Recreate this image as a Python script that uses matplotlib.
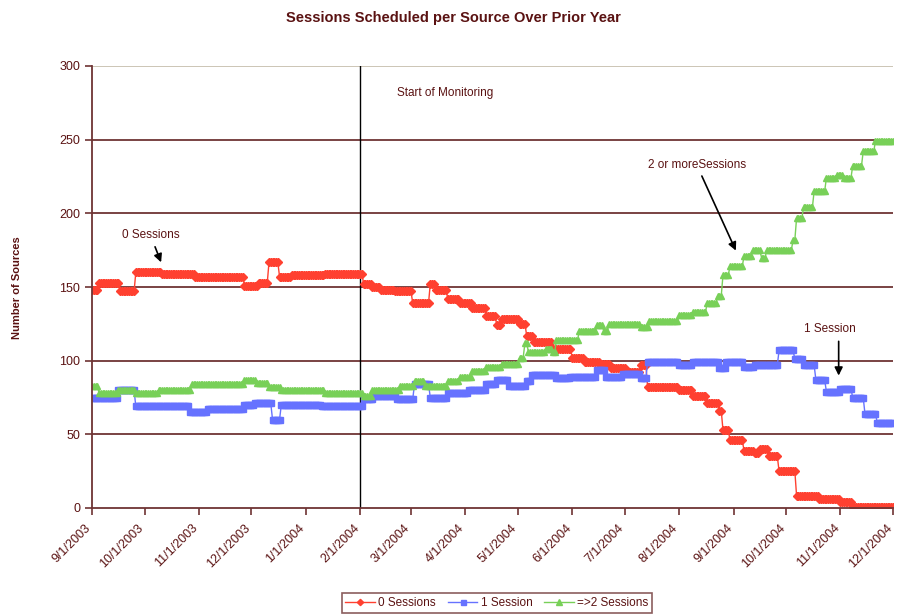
import pandas as pd
import numpy as np
import matplotlib
matplotlib.use("Agg")
import matplotlib.pyplot as plt
import matplotlib.transforms as mtrans

plt.rcParams['font.family'] = ['Liberation Sans', 'DejaVu Sans']

# change points (date the level starts, level)
zero_dates = ['2003-09-01', '2003-09-05', '2003-09-17', '2003-09-26', '2003-10-11', '2003-10-30',
              '2003-11-27', '2003-12-05', '2003-12-11', '2003-12-17', '2003-12-24', '2004-01-12',
              '2004-02-03', '2004-02-08', '2004-02-13', '2004-02-21', '2004-03-02', '2004-03-12',
              '2004-03-15', '2004-03-22', '2004-03-29', '2004-04-05', '2004-04-13', '2004-04-19',
              '2004-04-22', '2004-05-02', '2004-05-06', '2004-05-10', '2004-05-21', '2004-06-01',
              '2004-06-08', '2004-06-17', '2004-06-23', '2004-07-02', '2004-07-10', '2004-07-14',
              '2004-08-01', '2004-08-09', '2004-08-17', '2004-08-24', '2004-08-26', '2004-08-30',
              '2004-09-07', '2004-09-13', '2004-09-16', '2004-09-21', '2004-09-27', '2004-10-07',
              '2004-10-20', '2004-11-01', '2004-11-08']
zero_vals = [148, 153, 147, 160, 159, 157,
             151, 153, 167, 157, 158, 159,
             152, 150, 148, 147, 139, 152,
             148, 142, 139, 136, 130, 124,
             128, 125, 117, 113, 108, 102,
             99, 98, 95, 92, 97, 82,
             80, 76, 71, 66, 53, 46,
             39, 37, 40, 35, 25, 8,
             6, 4, 1]

one_dates = ['2003-09-01', '2003-09-16', '2003-09-26', '2003-10-27', '2003-11-06', '2003-11-27',
             '2003-12-03', '2003-12-13', '2003-12-18', '2004-01-10', '2004-02-03', '2004-02-09',
             '2004-02-22', '2004-03-03', '2004-03-12', '2004-03-22', '2004-04-03', '2004-04-13',
             '2004-04-19', '2004-04-26', '2004-05-06', '2004-05-09', '2004-05-23', '2004-05-31',
             '2004-06-15', '2004-06-20', '2004-06-30', '2004-07-10', '2004-07-14', '2004-08-01',
             '2004-08-09', '2004-08-24', '2004-08-28', '2004-09-07', '2004-09-13', '2004-09-27',
             '2004-10-06', '2004-10-11', '2004-10-18', '2004-10-24', '2004-11-01', '2004-11-08',
             '2004-11-15', '2004-11-22']
one_vals = [75, 80, 69, 65, 67, 70,
            71, 60, 70, 69, 74, 76,
            74, 84, 75, 78, 80, 84,
            87, 83, 86, 90, 88, 89,
            94, 89, 91, 88, 99, 97,
            99, 95, 99, 96, 97, 107,
            101, 97, 87, 79, 81, 75,
            64, 58]

two_dates = ['2003-09-01', '2003-09-05', '2003-09-16', '2003-09-26', '2003-10-09', '2003-10-28',
             '2003-11-27', '2003-12-04', '2003-12-11', '2003-12-18', '2004-01-12', '2004-02-03',
             '2004-02-08', '2004-02-24', '2004-03-03', '2004-03-09', '2004-03-22', '2004-03-29',
             '2004-04-05', '2004-04-13', '2004-04-22', '2004-05-02', '2004-05-05', '2004-05-07',
             '2004-05-17', '2004-05-21', '2004-05-23', '2004-06-05', '2004-06-15', '2004-06-19',
             '2004-06-22', '2004-07-10', '2004-07-15', '2004-08-01', '2004-08-09', '2004-08-17',
             '2004-08-23', '2004-08-26', '2004-08-30', '2004-09-07', '2004-09-12', '2004-09-17',
             '2004-09-20', '2004-10-05', '2004-10-07', '2004-10-11', '2004-10-17', '2004-10-24',
             '2004-10-30', '2004-11-03', '2004-11-08', '2004-11-14', '2004-11-21']
two_vals = [83, 78, 80, 78, 80, 84,
            87, 85, 82, 80, 78, 76,
            80, 83, 86, 83, 86, 89,
            93, 96, 98, 102, 112, 106,
            108, 106, 114, 120, 124, 120,
            125, 123, 127, 131, 133, 139,
            144, 158, 164, 171, 175, 170,
            175, 182, 197, 204, 215, 224,
            226, 224, 232, 242, 249]

tick_dates = ['2003-09-01', '2003-10-01', '2003-11-01', '2003-12-01', '2004-01-01', '2004-02-01',
              '2004-03-01', '2004-04-01', '2004-05-01', '2004-06-01', '2004-07-01', '2004-08-01',
              '2004-09-01', '2004-10-01', '2004-11-01', '2004-12-01']
tick_labels = ['9/1/2003', '10/1/2003', '11/1/2003', '12/1/2003', '1/1/2004', '2/1/2004',
               '3/1/2004', '4/1/2004', '5/1/2004', '6/1/2004', '7/1/2004', '8/1/2004',
               '9/1/2004', '10/1/2004', '11/1/2004', '12/1/2004']

days = pd.date_range('2003-09-01', '2004-12-01', freq='D')


def daily(dates, vals):
    s = pd.Series(vals, index=pd.to_datetime(dates))
    return s.reindex(days, method='ffill')


txt = '#5a1212'
grid = '#6e3434'

fig = plt.figure(figsize=(8.97, 6.14), dpi=100)
ax = fig.add_axes([92 / 897, 1 - 508 / 614, (893 - 92) / 897, (508 - 66) / 614])

ax.plot(days, daily(zero_dates, zero_vals), color='#ff4030', lw=1, marker='D', ms=4,
        mec='#ff4030', label='0 Sessions')
ax.plot(days, daily(one_dates, one_vals), color='#6672ff', lw=1, marker='s', ms=4.5,
        mec='#6672ff', label='1 Session')
ax.plot(days, daily(two_dates, two_vals), color='#78d058', lw=1, marker='^', ms=5,
        mec='#78d058', label='=>2 Sessions')

ax.set_xlim(pd.Timestamp('2003-09-01'), pd.Timestamp('2004-12-01'))
ax.set_ylim(0, 300)
ax.set_yticks(range(0, 301, 50))
for v in range(50, 300, 50):
    ax.axhline(v, color=grid, lw=1.3, zorder=0)
ax.axhline(300, color='#c8c0b0', lw=1.3, zorder=0)
ax.axvline(pd.Timestamp('2004-02-01'), color='black', lw=1, zorder=1)

for side in ['top', 'right']:
    ax.spines[side].set_visible(False)
for side in ['left', 'bottom']:
    ax.spines[side].set_color(grid)
    ax.spines[side].set_linewidth(1.3)

ax.set_xticks(pd.to_datetime(tick_dates))
ax.set_xticklabels(tick_labels, rotation=45, ha='right', va='top', rotation_mode='anchor')
ax.tick_params(axis='both', colors=grid, labelcolor=txt, labelsize=9, length=5, width=1.2)
ax.tick_params(axis='x', pad=5)
shift = mtrans.ScaledTranslation(-7 / 100, 0, fig.dpi_scale_trans)
for lbl in ax.get_xticklabels():
    lbl.set_transform(lbl.get_transform() + shift)

ax.text(pd.Timestamp('2004-02-22'), 282, 'Start of Monitoring', color=txt, fontsize=8.5, va='center')
arrow = dict(arrowstyle='-|>', color='black', lw=1.2, mutation_scale=12)
ax.annotate('0 Sessions', xy=(pd.Timestamp('2003-10-11'), 165), xytext=(pd.Timestamp('2003-09-18'), 185),
            color=txt, fontsize=8.5, va='center', arrowprops=arrow)
ax.annotate('2 or moreSessions', xy=(pd.Timestamp('2004-09-03'), 173), xytext=(pd.Timestamp('2004-07-14'), 233),
            color=txt, fontsize=8.5, va='center', arrowprops=arrow)
ax.annotate('', xy=(pd.Timestamp('2004-10-31'), 88), xytext=(pd.Timestamp('2004-10-31'), 115),
            arrowprops=arrow)
ax.text(pd.Timestamp('2004-10-11'), 121.5, '1 Session', color=txt, fontsize=8.5, va='center')

fig.text(453 / 897, 1 - 18 / 614, 'Sessions Scheduled per Source Over Prior Year',
         ha='center', va='center', fontsize=10.5, fontweight='bold', color=txt)
fig.text(17 / 897, 1 - 288 / 614, 'Number of Sources', rotation=90, ha='center', va='center',
         fontsize=8, fontweight='bold', color=txt)

leg = ax.legend(loc='center', bbox_to_anchor=(497 / 897, 1 - 603 / 614), bbox_transform=fig.transFigure,
                ncol=3, fontsize=8.5, frameon=True, fancybox=False, handlelength=2.5,
                columnspacing=1.0, handletextpad=0.3, borderpad=0.3, markerscale=0.8)
leg.get_frame().set_edgecolor(grid)
leg.get_frame().set_linewidth(1.2)
for t in leg.get_texts():
    t.set_color(txt)

fig.savefig('out.png', dpi=100)
